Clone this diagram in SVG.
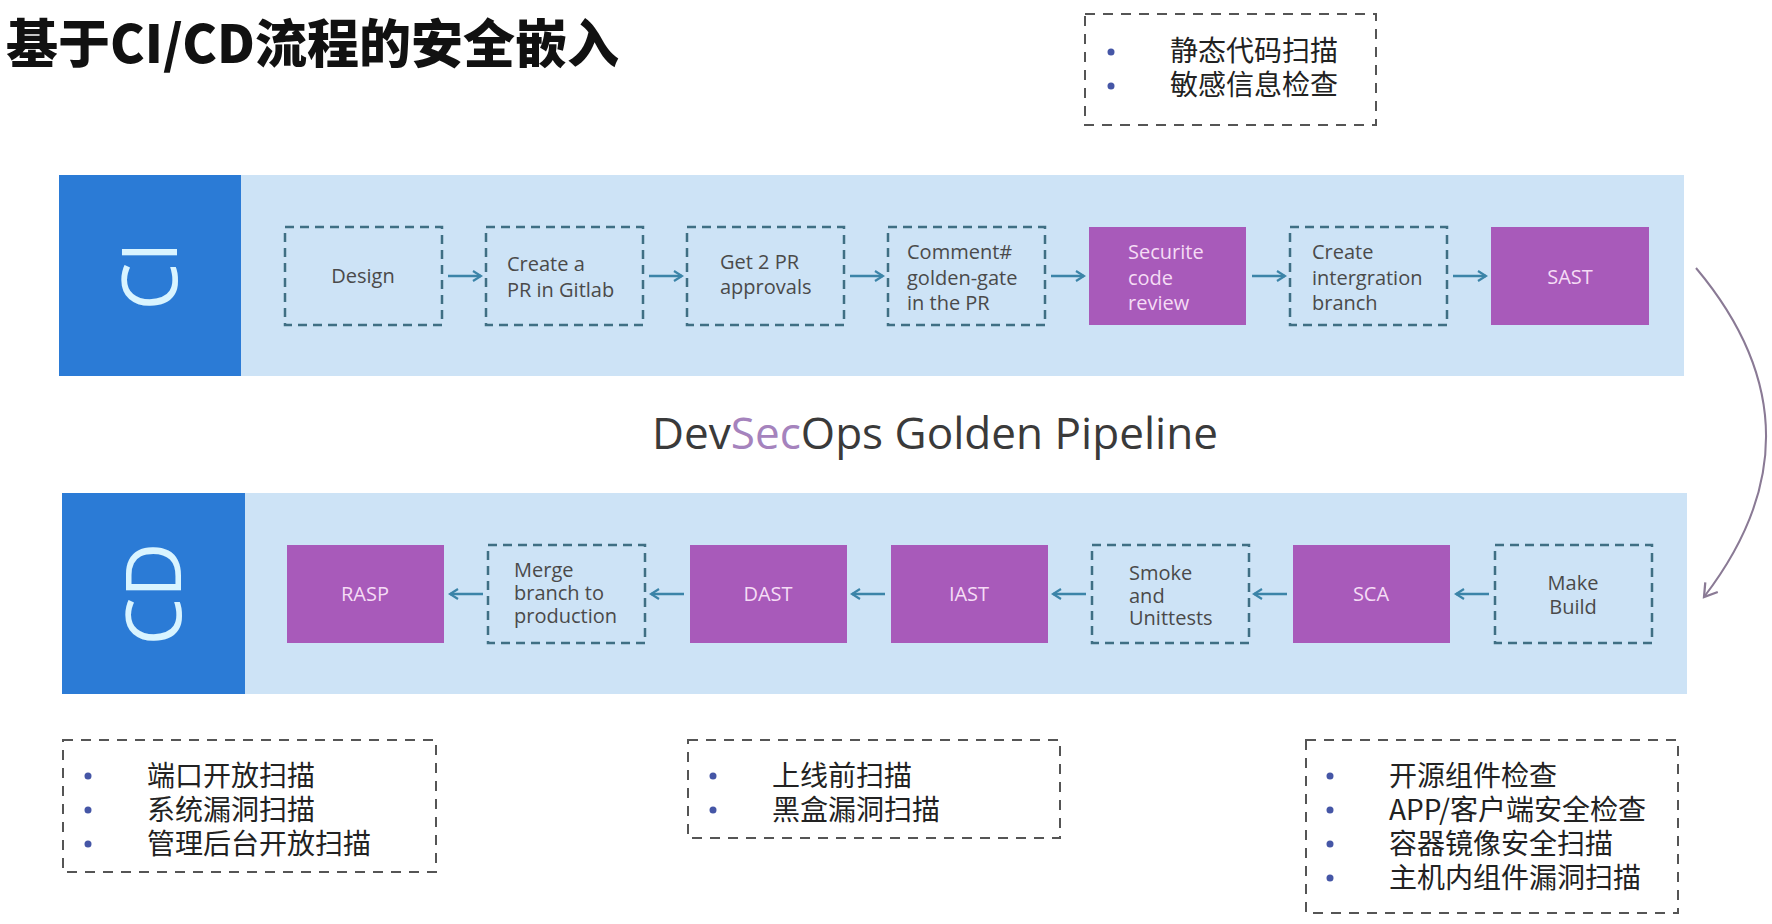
<svg xmlns="http://www.w3.org/2000/svg" width="1772" height="924" viewBox="0 0 1772 924">
<defs>
<style>
.band{fill:#cde3f6}
.side{fill:#2b7bd6}
.side-t{font-family:"Open Sans","Noto Sans",sans-serif;font-size:76px;fill:#d9f4ff;text-anchor:middle}
.dash{fill:none;stroke:#3f6f84;stroke-width:2.5;stroke-dasharray:9 6}
.sec{fill:#a85aba}
.nt{font-family:"Open Sans","Noto Sans",sans-serif;font-size:20px;fill:#4a4a4a}
.st{font-family:"Open Sans","Noto Sans",sans-serif;font-size:20px;fill:#f5dcf5}
.c{text-anchor:middle}
.conn{fill:none;stroke:#3b84a8;stroke-width:2.5}
.note{fill:none;stroke:#555;stroke-width:2;stroke-dasharray:10 8}
.bul{fill:#4556a6}
.ntxt{font-family:"Noto Sans CJK SC","Noto Sans",sans-serif;font-size:28px;fill:#222}
</style>
<marker id="ah" viewBox="0 0 12 12" refX="10" refY="6" markerWidth="12" markerHeight="12" markerUnits="userSpaceOnUse" orient="auto">
<polyline points="2,1 10,6 2,11" fill="none" stroke="#3b84a8" stroke-width="2.2"/>
</marker>
<marker id="ah2" viewBox="0 0 16 16" refX="13" refY="8" markerWidth="18" markerHeight="18" markerUnits="userSpaceOnUse" orient="auto">
<polyline points="2,1 13,8 2,15" fill="none" stroke="#8a7a95" stroke-width="2"/>
</marker>
</defs>
<rect width="1772" height="924" fill="#ffffff"/>

<g id="title">
<text x="6" y="63" font-family="Noto Sans CJK SC, sans-serif" font-weight="900" font-size="52" fill="#111" textLength="613" lengthAdjust="spacingAndGlyphs">基于CI/CD流程的安全嵌入</text>
</g>

<g id="note-ci">
<rect class="note" x="1085" y="14" width="291" height="111"/>
<circle class="bul" cx="1111" cy="52" r="3.5"/>
<circle class="bul" cx="1111" cy="86" r="3.5"/>
<text class="ntxt" x="1170" y="61">静态代码扫描</text>
<text class="ntxt" x="1170" y="95">敏感信息检查</text>
</g>

<g id="ci-band">
<rect class="band" x="59" y="175" width="1625" height="201"/>
<rect class="side" x="59" y="175" width="182" height="201"/>
<text class="side-t" transform="translate(150,276) rotate(-90)" y="27">CI</text>
</g>

<g id="cd-band">
<rect class="band" x="62" y="493" width="1625" height="201"/>
<rect class="side" x="62" y="493" width="183" height="201"/>
<text class="side-t" transform="translate(154,594) rotate(-90)" y="27">CD</text>
</g>

<g id="n-design"><rect class="dash" x="285" y="227" width="157" height="98"/><text class="nt c" x="363" y="283">Design</text></g>
<g id="n-pr"><rect class="dash" x="486" y="227" width="157" height="98"/><text class="nt" x="507" y="271">Create a</text><text class="nt" x="507" y="297">PR in Gitlab</text></g>
<g id="n-approvals"><rect class="dash" x="687" y="227" width="157" height="98"/><text class="nt" x="720" y="269">Get 2 PR</text><text class="nt" x="720" y="294">approvals</text></g>
<g id="n-comment"><rect class="dash" x="888" y="227" width="157" height="98"/><text class="nt" x="907" y="259">Comment#</text><text class="nt" x="907" y="285">golden-gate</text><text class="nt" x="907" y="310">in the PR</text></g>
<g id="n-review"><rect class="sec" x="1089" y="227" width="157" height="98"/><text class="st" x="1128" y="259">Securite</text><text class="st" x="1128" y="285">code</text><text class="st" x="1128" y="310">review</text></g>
<g id="n-integ"><rect class="dash" x="1290" y="227" width="157" height="98"/><text class="nt" x="1312" y="259">Create</text><text class="nt" x="1312" y="285">intergration</text><text class="nt" x="1312" y="310">branch</text></g>
<g id="n-sast"><rect class="sec" x="1491" y="227" width="158" height="98"/><text class="st c" x="1570" y="284">SAST</text></g>

<g id="n-rasp"><rect class="sec" x="287" y="545" width="157" height="98"/><text class="st c" x="365" y="601">RASP</text></g>
<g id="n-merge"><rect class="dash" x="488" y="545" width="157" height="98"/><text class="nt" x="514" y="577">Merge</text><text class="nt" x="514" y="600">branch to</text><text class="nt" x="514" y="623">production</text></g>
<g id="n-dast"><rect class="sec" x="690" y="545" width="157" height="98"/><text class="st c" x="768" y="601">DAST</text></g>
<g id="n-iast"><rect class="sec" x="891" y="545" width="157" height="98"/><text class="st c" x="969" y="601">IAST</text></g>
<g id="n-smoke"><rect class="dash" x="1092" y="545" width="157" height="98"/><text class="nt" x="1129" y="580">Smoke</text><text class="nt" x="1129" y="603">and</text><text class="nt" x="1129" y="625">Unittests</text></g>
<g id="n-sca"><rect class="sec" x="1293" y="545" width="157" height="98"/><text class="st c" x="1371" y="601">SCA</text></g>
<g id="n-build"><rect class="dash" x="1495" y="545" width="157" height="98"/><text class="nt c" x="1573" y="590">Make</text><text class="nt c" x="1573" y="614">Build</text></g>

<g id="connectors">
<line class="conn" x1="448" y1="276" x2="481" y2="276" marker-end="url(#ah)"/>
<line class="conn" x1="649" y1="276" x2="682" y2="276" marker-end="url(#ah)"/>
<line class="conn" x1="850" y1="276" x2="883" y2="276" marker-end="url(#ah)"/>
<line class="conn" x1="1051" y1="276" x2="1084" y2="276" marker-end="url(#ah)"/>
<line class="conn" x1="1252" y1="276" x2="1285" y2="276" marker-end="url(#ah)"/>
<line class="conn" x1="1453" y1="276" x2="1486" y2="276" marker-end="url(#ah)"/>
<line class="conn" x1="1489" y1="594" x2="1456" y2="594" marker-end="url(#ah)"/>
<line class="conn" x1="1287" y1="594" x2="1254" y2="594" marker-end="url(#ah)"/>
<line class="conn" x1="1086" y1="594" x2="1053" y2="594" marker-end="url(#ah)"/>
<line class="conn" x1="885" y1="594" x2="852" y2="594" marker-end="url(#ah)"/>
<line class="conn" x1="684" y1="594" x2="651" y2="594" marker-end="url(#ah)"/>
<line class="conn" x1="483" y1="594" x2="450" y2="594" marker-end="url(#ah)"/>
<path d="M1696,268 Q1832,430 1704,597" fill="none" stroke="#8a7a95" stroke-width="2" marker-end="url(#ah2)"/>
</g>

<g id="pipeline-label">
<text x="652" y="449" font-family="Open Sans, Noto Sans, sans-serif" font-size="44" fill="#3a3a3a" textLength="566" lengthAdjust="spacingAndGlyphs">Dev<tspan fill="#a583bd">Sec</tspan>Ops Golden Pipeline</text>
</g>

<g id="note-port">
<rect class="note" x="63" y="740" width="373" height="132"/>
<circle class="bul" cx="88" cy="776" r="3.5"/>
<circle class="bul" cx="88" cy="810" r="3.5"/>
<circle class="bul" cx="88" cy="844" r="3.5"/>
<text class="ntxt" x="147" y="786">端口开放扫描</text>
<text class="ntxt" x="147" y="820">系统漏洞扫描</text>
<text class="ntxt" x="147" y="854">管理后台开放扫描</text>
</g>

<g id="note-dast">
<rect class="note" x="688" y="740" width="372" height="98"/>
<circle class="bul" cx="713" cy="776" r="3.5"/>
<circle class="bul" cx="713" cy="810" r="3.5"/>
<text class="ntxt" x="772" y="786">上线前扫描</text>
<text class="ntxt" x="772" y="820">黑盒漏洞扫描</text>
</g>

<g id="note-sca">
<rect class="note" x="1306" y="740" width="372" height="173"/>
<circle class="bul" cx="1330" cy="776" r="3.5"/>
<circle class="bul" cx="1330" cy="810" r="3.5"/>
<circle class="bul" cx="1330" cy="844" r="3.5"/>
<circle class="bul" cx="1330" cy="878" r="3.5"/>
<text class="ntxt" x="1389" y="786">开源组件检查</text>
<text class="ntxt" x="1389" y="820">APP/客户端安全检查</text>
<text class="ntxt" x="1389" y="854">容器镜像安全扫描</text>
<text class="ntxt" x="1389" y="888">主机内组件漏洞扫描</text>
</g>
</svg>
